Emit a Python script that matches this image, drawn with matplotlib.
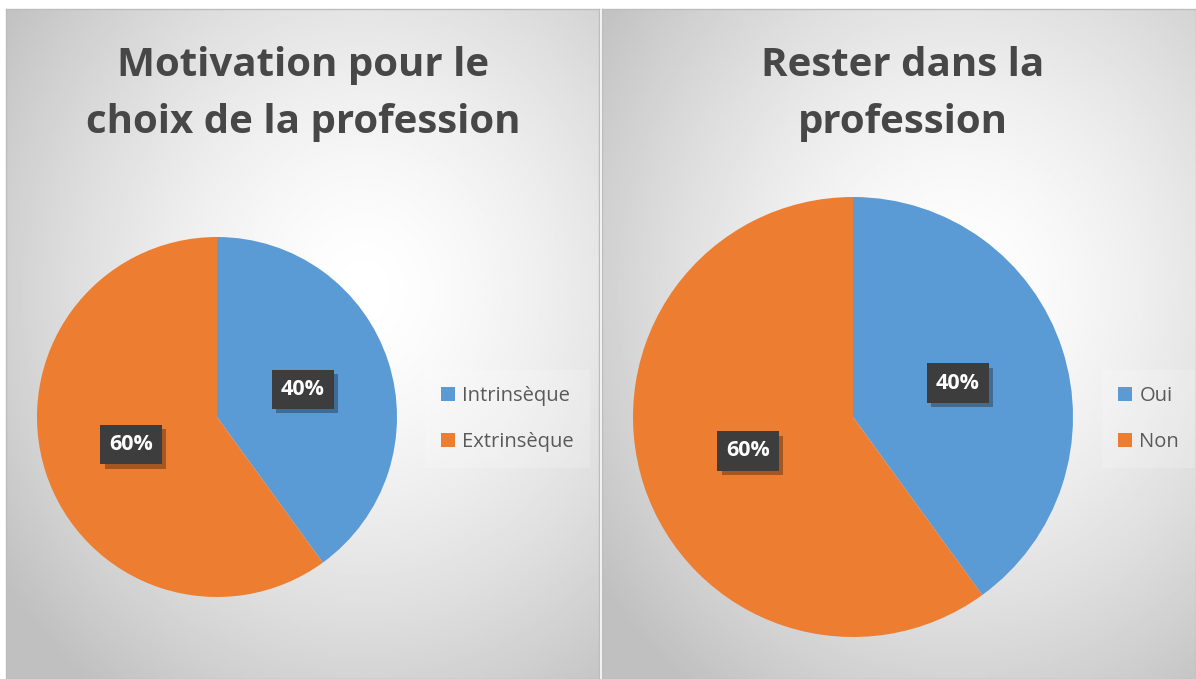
import numpy as np
import matplotlib
matplotlib.use("Agg")
import matplotlib.pyplot as plt
from matplotlib.patches import Patch
import matplotlib.patheffects as pe

plt.rcParams['font.family'] = ['Open Sans', 'DejaVu Sans']

# data
titles = ["Motivation pour le\nchoix de la profession", "Rester dans la\nprofession"]
labels_left = ["Intrinsèque", "Extrinsèque"]
labels_right = ["Oui", "Non"]
values_left = [40, 60]
values_right = [40, 60]
colors = ["#5B9BD5", "#ED7D31"]

W, H = 1196, 679
fig = plt.figure(figsize=(W / 100, H / 100), dpi=100)
fig.patch.set_facecolor("white")


def px(x0, y0, w, h):
    # pixel box (top-left origin) -> figure fraction
    return [x0 / W, 1 - (y0 + h) / H, w / W, h / H]


def panel_bg(rect):
    ax = fig.add_axes(rect)
    ny, nx = 300, 300
    yy, xx = np.mgrid[0:ny, 0:nx]
    cx, cy = nx * 0.6, ny * 0.42
    d = np.sqrt(((xx - cx) / nx) ** 2 + ((yy - cy) / ny) ** 2)
    d = np.clip(d / 0.75, 0, 1)
    g = 1.0 - 0.25 * d ** 1.5
    ax.imshow(g, cmap="gray", vmin=0, vmax=1, aspect="auto",
              extent=[0, 1, 0, 1], interpolation="bilinear")
    ax.set_xlim(0, 1)
    ax.set_ylim(0, 1)
    ax.set_xticks([])
    ax.set_yticks([])
    for s in ax.spines.values():
        s.set_color("#bdbdbd")
        s.set_linewidth(1)
    return ax


def draw_pie(rect, values, names, legend_xy):
    ax = fig.add_axes(rect)
    ax.patch.set_alpha(0)
    wedges, _, autotexts = ax.pie(values, colors=colors, startangle=90,
                                  counterclock=False, autopct="%1.0f%%",
                                  pctdistance=0.5, radius=1,
                                  wedgeprops=dict(linewidth=0))
    for t in autotexts:
        t.set_color("white")
        t.set_fontsize(15.5)
        t.set_fontweight("bold")
        t.set_bbox(dict(boxstyle="square,pad=0.42", facecolor="#3d3d3d",
                        edgecolor="none"))
        t.get_bbox_patch().set_path_effects([
            pe.SimplePatchShadow(offset=(3, -3), shadow_rgbFace="black", alpha=0.3),
            pe.Normal()])
    ax.set_xlim(-1, 1)
    ax.set_ylim(-1, 1)
    ax.set_aspect("equal")
    handles = [Patch(facecolor=c, edgecolor="none") for c in colors]
    fig.legend(handles, names, loc="center left",
               bbox_to_anchor=(legend_xy[0] / W, 1 - legend_xy[1] / H),
               frameon=True, facecolor="white", framealpha=0.2,
               edgecolor="none", fancybox=False,
               fontsize=14.5, labelcolor="#595959", handlelength=0.7,
               handleheight=0.7, handletextpad=0.35, labelspacing=1.3,
               borderpad=0.8)
    return ax


panel_bg(px(6, 9, 593, 670))
panel_bg(px(602, 9, 594, 670))

draw_pie(px(37, 237, 360, 360), values_left, labels_left, (415, 419))
draw_pie(px(633, 197, 440, 440), values_right, labels_right, (1092, 419))

fig.text(303 / W, 1 - 94 / H, titles[0], ha="center", va="center",
         fontsize=29, fontweight="bold", color="#474747", linespacing=1.6)
fig.text(903 / W, 1 - 94 / H, titles[1], ha="center", va="center",
         fontsize=29, fontweight="bold", color="#474747", linespacing=1.6)

fig.savefig("out.png", dpi=100)
